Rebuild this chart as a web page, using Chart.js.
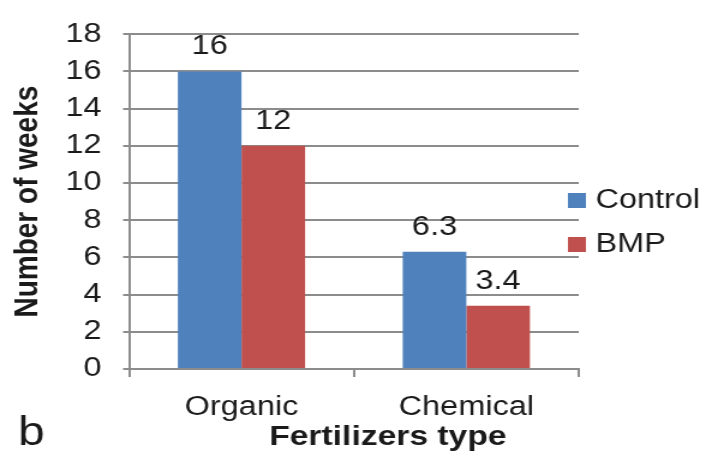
<!DOCTYPE html>
<html>
<head>
<meta charset="utf-8">
<script src="https://cdn.jsdelivr.net/npm/chart.js@4.4.0/dist/chart.umd.min.js"></script>
<style>
  body { margin: 0; background: #fff; }
</style>
</head>
<body>
<canvas id="weeksChart" width="588" height="454" style="display:block;width:706px;height:454px"></canvas>
<script>
// weeks needed per fertilizer type
var categories = ["Organic", "Chemical"];
var controlWeeks = [16, 6.3];
var bmpWeeks = [12, 3.4];
var seriesNames = ["Control", "BMP"];
var yMax = 18;
var yStep = 2;

var FONT = "'Liberation Sans', Arial, sans-serif";
var GRID = "#8c8c8c";
var TEXT = "#1a1a1a";

// numbers over each bar
var valueLabels = {
  id: "valueLabels",
  afterDatasetsDraw: function(chart) {
    var ctx = chart.ctx;
    ctx.save();
    ctx.font = "27px " + FONT;
    ctx.fillStyle = TEXT;
    ctx.textAlign = "center";
    ctx.textBaseline = "bottom";
    chart.data.datasets.forEach(function(ds, i) {
      chart.getDatasetMeta(i).data.forEach(function(bar, j) {
        ctx.fillText(String(ds.data[j]), bar.x, bar.y - 11);
      });
    });
    ctx.restore();
  }
};

// legend on the right, x title and panel letter
var extras = {
  id: "extras",
  afterDraw: function(chart) {
    var ctx = chart.ctx;
    var area = chart.chartArea;
    ctx.save();
    ctx.fillStyle = TEXT;
    ctx.textBaseline = "middle";
    ctx.textAlign = "left";
    ctx.font = "27px " + FONT;
    var ys = [200, 244];
    chart.data.datasets.forEach(function(ds, i) {
      ctx.fillStyle = ds.backgroundColor;
      ctx.fillRect(area.right - 9, ys[i] - 7, 15, 15);
      ctx.fillStyle = TEXT;
      ctx.fillText(ds.label, area.right + 14, ys[i] + 1);
    });

    ctx.textAlign = "center";
    ctx.font = "bold 28px " + FONT;
    ctx.fillText("Fertilizers type", 323, 437);

    ctx.textAlign = "left";
    ctx.font = "40px " + FONT;
    ctx.textBaseline = "alphabetic";
    ctx.fillText("b", 15, 445);
    ctx.restore();
  }
};

var ctx = document.getElementById("weeksChart").getContext("2d");
var weeksChart = new Chart(ctx, {
  type: "bar",
  data: {
    labels: categories,
    datasets: [
      {
        label: seriesNames[0],
        data: controlWeeks,
        backgroundColor: "#4f81bd"
      },
      {
        label: seriesNames[1],
        data: bmpWeeks,
        backgroundColor: "#c0504d"
      }
    ]
  },
  options: {
    responsive: false,
    animation: false,
    categoryPercentage: 0.566,
    barPercentage: 1,
    layout: { padding: { left: 0, right: 106, top: 22, bottom: 0 } },
    plugins: {
      legend: { display: false },
      tooltip: { enabled: false }
    },
    scales: {
      x: {
        afterFit: function(scale) { scale.height = 85; },
        grid: {
          offset: true,
          drawOnChartArea: false,
          drawTicks: true,
          tickLength: 8,
          color: GRID,
          lineWidth: 2
        },
        border: { color: GRID, width: 2 },
        ticks: {
          padding: 14,
          color: TEXT,
          font: { family: FONT, size: 27 }
        }
      },
      y: {
        min: 0,
        max: yMax,
        afterFit: function(scale) { scale.width = 107.5; },
        grid: {
          color: GRID,
          lineWidth: 2,
          tickLength: 5
        },
        border: { color: GRID, width: 2 },
        ticks: {
          stepSize: yStep,
          padding: 18,
          color: TEXT,
          font: { family: FONT, size: 27 }
        },
        title: {
          display: true,
          text: "Number of weeks",
          color: TEXT,
          padding: { top: 6, bottom: 0 },
          font: { family: FONT, size: 28, weight: "bold" }
        }
      }
    }
  },
  plugins: [valueLabels, extras]
});
</script>
</body>
</html>
